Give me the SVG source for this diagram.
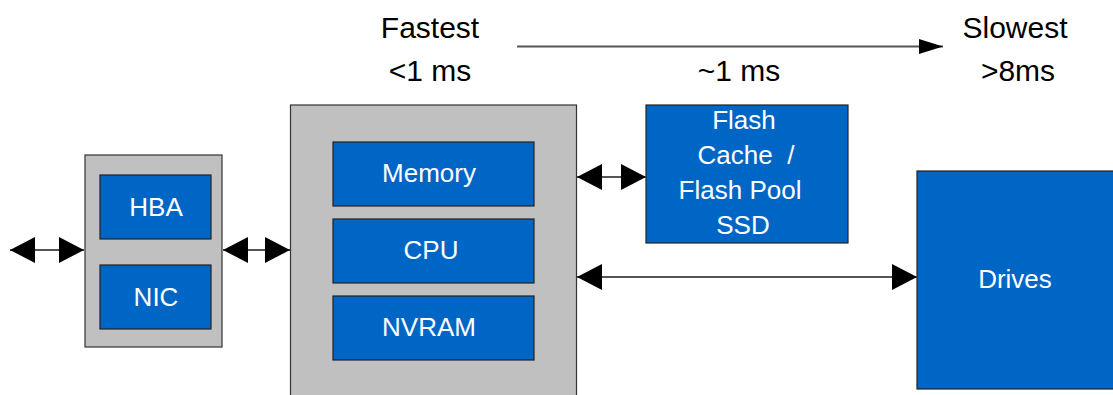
<svg xmlns="http://www.w3.org/2000/svg" width="1113" height="395" viewBox="0 0 1113 395">
<style>
.frame{fill:#c0c0c0;stroke:#333;stroke-width:1.2}
.blue{fill:#0066c6;stroke:#222;stroke-width:1.2}
.lbl{font-family:"Liberation Sans",Arial,sans-serif;font-size:26px;fill:#fff;text-anchor:middle}
.top{font-family:"Liberation Sans",Arial,sans-serif;font-size:30px;fill:#000;text-anchor:middle}
.conn{stroke:#555;stroke-width:2;fill:none}
</style>
<defs>
<marker id="big" markerUnits="userSpaceOnUse" markerWidth="26" markerHeight="28" refX="25" refY="13" orient="auto-start-reverse" viewBox="0 0 26 26">
<path d="M0,0 L25,13 L0,26 z" fill="#000"/>
</marker>
<marker id="small" markerUnits="userSpaceOnUse" markerWidth="25" markerHeight="16" refX="24" refY="7.5" orient="auto" viewBox="0 0 25 16">
<path d="M0,0 L24,7.5 L0,15 z" fill="#000"/>
</marker>
</defs>
<rect width="1113" height="395" fill="#fff"/>
<g id="legend">
<text class="top" x="430" y="38">Fastest</text>
<text class="top" x="430" y="81">&lt;1 ms</text>
<text class="top" x="739" y="81">~1 ms</text>
<text class="top" x="1015" y="38">Slowest</text>
<text class="top" x="1018" y="81">&gt;8ms</text>
</g>
<g id="adapters">
<rect class="frame" x="85" y="155" width="137" height="192"/>
<g id="hba"><rect class="blue" x="100" y="175" width="111" height="64"/><text class="lbl" x="156" y="216">HBA</text></g>
<g id="nic"><rect class="blue" x="100" y="265" width="111" height="64"/><text class="lbl" x="156" y="306">NIC</text></g>
</g>
<g id="controller">
<rect class="frame" x="290.5" y="105" width="286" height="300"/>
<g id="memory"><rect class="blue" x="333" y="142" width="201" height="64"/><text class="lbl" x="429" y="182">Memory</text></g>
<g id="cpu"><rect class="blue" x="333" y="219" width="201" height="64"/><text class="lbl" x="431" y="259">CPU</text></g>
<g id="nvram"><rect class="blue" x="333" y="296" width="201" height="64"/><text class="lbl" x="429" y="336">NVRAM</text></g>
</g>
<g id="flash">
<rect class="blue" x="646" y="105" width="202" height="138"/>
<text class="lbl" x="744" y="129">Flash</text>
<text class="lbl" x="746" y="164" xml:space="preserve">Cache  /</text>
<text class="lbl" x="740" y="199">Flash Pool</text>
<text class="lbl" x="743" y="234">SSD</text>
</g>
<g id="drives">
<rect class="blue" x="917" y="171" width="210" height="218"/>
<text class="lbl" x="1015" y="288">Drives</text>
</g>
<g id="connectors">
<line class="conn" x1="517" y1="46.5" x2="943" y2="46.5" marker-end="url(#small)"/>
<line class="conn" x1="10" y1="250" x2="84" y2="250" marker-start="url(#big)" marker-end="url(#big)"/>
<line class="conn" x1="223" y1="250" x2="290" y2="250" marker-start="url(#big)" marker-end="url(#big)"/>
<line class="conn" x1="577" y1="177" x2="646" y2="177" marker-start="url(#big)" marker-end="url(#big)"/>
<line class="conn" x1="577" y1="277" x2="917" y2="277" marker-start="url(#big)" marker-end="url(#big)"/>
</g>
</svg>
